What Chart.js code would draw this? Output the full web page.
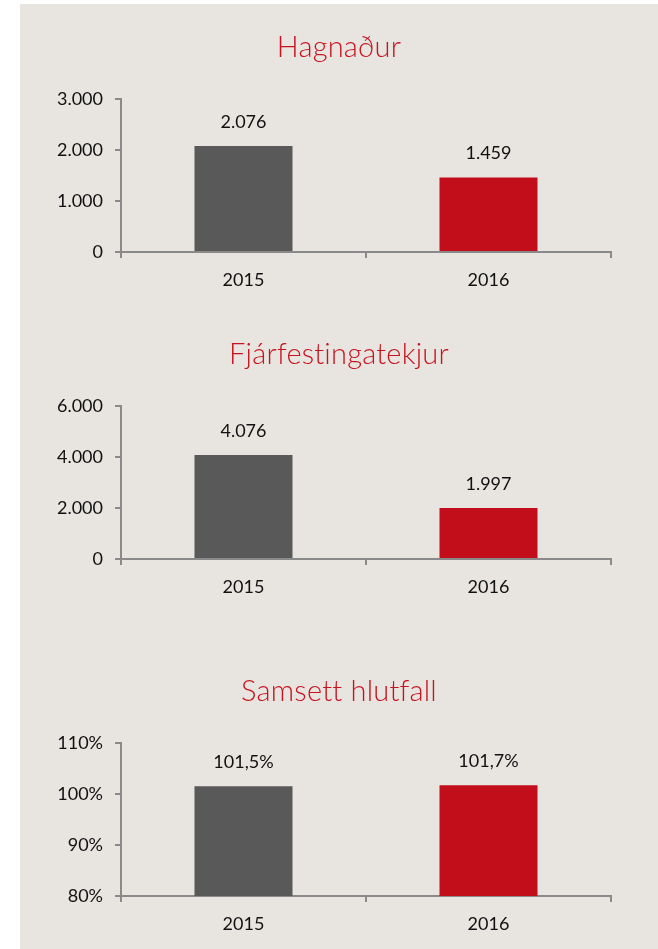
<!DOCTYPE html>
<html>
<head>
<meta charset="utf-8">
<script src="https://cdn.jsdelivr.net/npm/chart.js@4.4.0/dist/chart.umd.min.js"></script>
<style>
  html, body { margin: 0; padding: 0; background: #ffffff; }
  #panel { position: absolute; left: 20px; top: 4px; width: 638px; height: 945px; background: #e8e5e1; }
  .box { position: absolute; left: 20px; width: 638px; height: 298px; }
  .box canvas { display: block; }
</style>
</head>
<body>
<div id="panel"></div>
<div class="box" style="top:4px"><canvas id="c1" width="638" height="298"></canvas></div>
<div class="box" style="top:311px"><canvas id="c2" width="638" height="298"></canvas></div>
<div class="box" style="top:648px"><canvas id="c3" width="638" height="298"></canvas></div>
<script>
// ---- data ----
const categories = ['2015', '2016'];
const barColors = ['#595959', '#c20e1a'];

const titleProfit = 'Hagnaður';
const valuesProfit = [2076, 1459];
const ticksProfit = [0, 1000, 2000, 3000];

const titleInvest = 'Fjárfestingatekjur';
const valuesInvest = [4076, 1997];
const ticksInvest = [0, 2000, 4000, 6000];

const titleCombined = 'Samsett hlutfall';
const valuesCombined = [101.5, 101.7];
const ticksCombined = [80, 90, 100, 110];

// ---- formatting (Icelandic) ----
function fmtThousands(v) {
  return Math.round(v).toString().replace(/\B(?=(\d{3})+(?!\d))/g, '.');
}
function fmtPct(v, dec) {
  return v.toFixed(dec).replace('.', ',') + '%';
}

const FONT = 'Lato, "Open Sans", sans-serif';
const AXIS = '#8a8a8a';

// Title centred on the whole panel (not just the plot area)
const panelTitle = {
  id: 'panelTitle',
  afterDraw(chart, args, opts) {
    const ctx = chart.ctx;
    ctx.save();
    if ('letterSpacing' in ctx) ctx.letterSpacing = '0.2px'; // avoid "ti" ligature
    ctx.font = '300 29px ' + FONT;
    ctx.fillStyle = '#c8131f';
    ctx.textAlign = 'center';
    ctx.textBaseline = 'middle';
    ctx.fillText(opts.text, chart.width / 2, 43.5);
    ctx.restore();
  }
};

const valueLabels = {
  id: 'valueLabels',
  afterDatasetsDraw(chart, args, opts) {
    const ctx = chart.ctx;
    const meta = chart.getDatasetMeta(0);
    ctx.save();
    ctx.font = '18px ' + FONT;
    ctx.fillStyle = '#111111';
    ctx.textAlign = 'center';
    ctx.textBaseline = 'middle';
    meta.data.forEach((bar, i) => {
      const v = chart.data.datasets[0].data[i];
      ctx.fillText(opts.format(v), bar.x, bar.y - 24);
    });
    ctx.restore();
  }
};

function makeChart(id, title, values, ticks, tickFmt, labelFmt) {
  new Chart(document.getElementById(id), {
    type: 'bar',
    data: {
      labels: categories,
      datasets: [{
        data: values,
        backgroundColor: barColors,
        borderWidth: 0,
        barPercentage: 0.4,
        categoryPercentage: 1.0
      }]
    },
    options: {
      responsive: false,
      animation: false,
      layout: { padding: { left: 0, right: 47, top: 95, bottom: 0 } },
      plugins: {
        legend: { display: false },
        tooltip: { enabled: false },
        title: { display: false },
        panelTitle: { text: title },
        valueLabels: { format: labelFmt }
      },
      scales: {
        x: {
          offset: true,
          grid: {
            offset: true,
            drawOnChartArea: false,
            drawTicks: true,
            tickLength: 6,
            color: AXIS,
            lineWidth: 2
          },
          border: { display: true, color: AXIS, width: 2 },
          ticks: { color: '#111111', font: { family: FONT, size: 18 }, padding: 11 },
          afterFit(scale) { scale.height = 50; }
        },
        y: {
          min: ticks[0],
          max: ticks[ticks.length - 1],
          afterBuildTicks(scale) { scale.ticks = ticks.map(v => ({ value: v })); },
          grid: {
            drawOnChartArea: false,
            drawTicks: true,
            tickLength: 6,
            color: AXIS,
            lineWidth: 2
          },
          border: { display: true, color: AXIS, width: 2 },
          ticks: {
            color: '#111111',
            font: { family: FONT, size: 18 },
            padding: 12,
            callback: (v) => tickFmt(v)
          },
          afterFit(scale) { scale.width = 101; }
        }
      }
    },
    plugins: [panelTitle, valueLabels]
  });
}

makeChart('c1', titleProfit, valuesProfit, ticksProfit, fmtThousands, fmtThousands);
makeChart('c2', titleInvest, valuesInvest, ticksInvest, fmtThousands, fmtThousands);
makeChart('c3', titleCombined, valuesCombined, ticksCombined, v => fmtPct(v, 0), v => fmtPct(v, 1));
</script>
</body>
</html>
